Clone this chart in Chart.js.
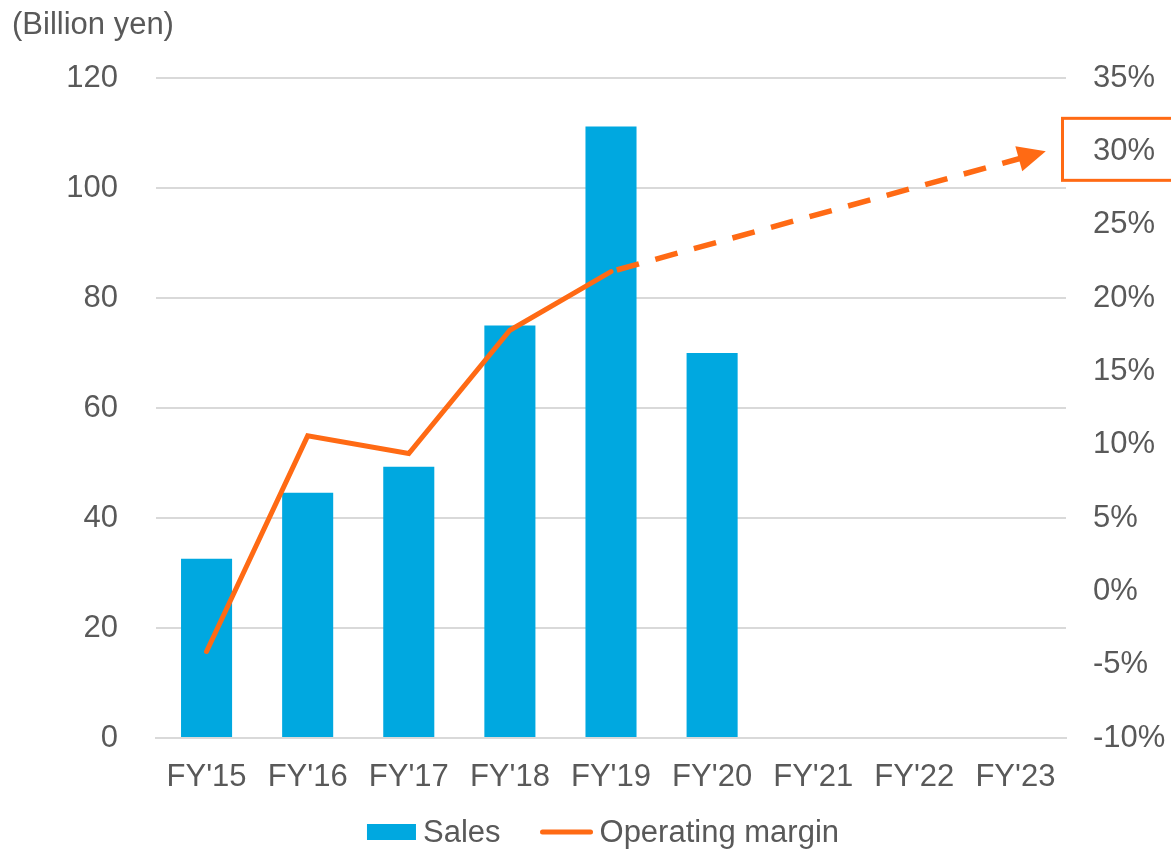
<!DOCTYPE html>
<html>
<head>
<meta charset="utf-8">
<script src="https://cdn.jsdelivr.net/npm/chart.js@4/dist/chart.umd.min.js"></script>
<style>
  html, body { margin: 0; padding: 0; background: #ffffff; }
  #wrap { width: 1171px; height: 849px; }
</style>
</head>
<body>
<div id="wrap"><canvas id="c" width="1171" height="849"></canvas></div>
<script>
// Fiscal years on the category axis
const fiscalYears = ["FY'15", "FY'16", "FY'17", "FY'18", "FY'19", "FY'20", "FY'21", "FY'22", "FY'23"];
// Sales, billion yen
const salesBillionYen = [32.6, 44.6, 49.3, 75.0, 111.2, 70.0, null, null, null];
// Operating margin, %
const operatingMarginPct = [-4.1, 10.6, 9.4, 17.8, 21.8, null, null, null, null];
// Margin outlook (dashed arrow): year index and margin %
const outlookYearIndex = [4, 8.3];
const outlookMarginPct = [21.8, 30];
// Axis ranges
const salesAxis = { min: 0, max: 120, step: 20 };
const marginAxis = { min: -10, max: 35, step: 5 };

const BLUE = '#00A8E0';
const ORANGE = '#FF6A14';
const TEXT = '#595959';
const GRID = '#d9d9d9';
const FONT = 'Liberation Sans, Arial, sans-serif';
const FS = 31;

Chart.defaults.font.family = FONT;

// Dashed outlook line: clip its tail and finish it with an arrowhead
const outlookArrow = {
  id: 'outlookArrow',
  beforeDatasetDraw(chart, args) {
    if (args.index !== 2) return;
    const pts = args.meta.data;
    const tip = pts[pts.length - 1];
    const ctx = chart.ctx;
    ctx.save();
    ctx.beginPath();
    ctx.rect(0, 0, tip.x - 7, chart.height);
    ctx.clip();
  },
  afterDatasetDraw(chart, args) {
    if (args.index !== 2) return;
    const ctx = chart.ctx;
    ctx.restore();
    const pts = args.meta.data;
    const tip = pts[pts.length - 1];
    const prev = pts[pts.length - 2];
    const dx = tip.x - prev.x, dy = tip.y - prev.y;
    const len = Math.hypot(dx, dy);
    const ux = dx / len, uy = dy / len;
    const nx = -uy, ny = ux;
    const L = 28, W = 13;
    const bx = tip.x - ux * L, by = tip.y - uy * L;
    ctx.save();
    ctx.fillStyle = ORANGE;
    ctx.beginPath();
    ctx.moveTo(tip.x, tip.y);
    ctx.lineTo(bx + nx * W, by + ny * W);
    ctx.lineTo(bx - nx * W, by - ny * W);
    ctx.closePath();
    ctx.fill();
    ctx.restore();
  }
};

// Unit caption, target box on the margin axis, and the legend row
const decorations = {
  id: 'decorations',
  afterDraw(chart) {
    const ctx = chart.ctx;
    const area = chart.chartArea;
    ctx.save();

    // unit caption
    ctx.font = `${FS}px ${FONT}`;
    ctx.fillStyle = TEXT;
    ctx.textBaseline = 'middle';
    ctx.textAlign = 'left';
    ctx.fillText('(Billion yen)', 12, 25);

    // box around the target margin tick
    const target = outlookMarginPct[outlookMarginPct.length - 1];
    const ty = chart.scales.y2.getPixelForValue(target);
    ctx.strokeStyle = ORANGE;
    ctx.lineWidth = 3;
    ctx.strokeRect(area.right - 3.5, ty - 33, 200, 62);

    // legend
    ctx.font = `${FS}px ${FONT}`;
    const ds = chart.data.datasets;
    const items = [
      { kind: 'box', color: ds[0].backgroundColor, text: ds[0].label, sym: 49 },
      { kind: 'line', color: ds[1].borderColor, text: ds[1].label, sym: 52 }
    ];
    const symGap = 7, itemGap = 40;
    let total = 0;
    items.forEach((it, i) => {
      it.tw = ctx.measureText(it.text).width;
      it.w = it.sym + symGap + it.tw;
      total += it.w + (i ? itemGap : 0);
    });
    const cy = 832;
    let x = (area.left + area.right) / 2 - 8 - total / 2;
    items.forEach(it => {
      if (it.kind === 'box') {
        ctx.fillStyle = it.color;
        ctx.fillRect(x, cy - 8, it.sym, 16);
      } else {
        ctx.strokeStyle = it.color;
        ctx.lineWidth = 5;
        ctx.lineCap = 'round';
        ctx.beginPath();
        ctx.moveTo(x + 2, cy);
        ctx.lineTo(x + it.sym - 2, cy);
        ctx.stroke();
      }
      ctx.fillStyle = TEXT;
      ctx.textAlign = 'left';
      ctx.textBaseline = 'middle';
      ctx.fillText(it.text, x + it.sym + symGap, cy + 1);
      x += it.w + itemGap;
    });

    ctx.restore();
  }
};

new Chart(document.getElementById('c'), {
  data: {
    labels: fiscalYears,
    datasets: [
      {
        type: 'bar',
        label: 'Sales',
        data: salesBillionYen,
        backgroundColor: BLUE,
        grouped: false,
        categoryPercentage: 1,
        barPercentage: 0.505,
        yAxisID: 'y',
        xAxisID: 'x',
        order: 2
      },
      {
        type: 'line',
        label: 'Operating margin',
        data: operatingMarginPct,
        borderColor: ORANGE,
        borderWidth: 5,
        borderCapStyle: 'round',
        pointRadius: 0,
        tension: 0,
        spanGaps: false,
        yAxisID: 'y2',
        xAxisID: 'x',
        order: 1
      },
      {
        type: 'line',
        label: 'Operating margin outlook',
        data: outlookYearIndex.map((v, i) => ({ x: v, y: outlookMarginPct[i] })),
        borderColor: ORANGE,
        borderWidth: 5.5,
        borderDash: [23, 17],
        borderDashOffset: 34,
        borderCapStyle: 'butt',
        pointRadius: 0,
        tension: 0,
        yAxisID: 'y2',
        xAxisID: 'x2',
        order: 0,
        clip: false
      }
    ]
  },
  options: {
    responsive: false,
    animation: false,
    devicePixelRatio: 1,
    layout: { padding: { top: 78, left: 0, right: 0, bottom: 0 } },
    plugins: {
      legend: { display: false },
      tooltip: { enabled: false },
      title: { display: false }
    },
    scales: {
      x: {
        type: 'category',
        offset: true,
        grid: { display: false, drawTicks: false },
        border: { display: true, color: GRID, width: 2 },
        ticks: { color: TEXT, font: { size: FS }, padding: 21, maxRotation: 0, autoSkip: false },
        afterFit(s) { s.height = 111; }
      },
      x2: {
        type: 'linear',
        display: false,
        min: -0.5,
        max: 8.5
      },
      y: {
        position: 'left',
        min: salesAxis.min,
        max: salesAxis.max,
        ticks: { stepSize: salesAxis.step, color: TEXT, font: { size: FS }, padding: 38 },
        grid: { color: GRID, lineWidth: 2, drawTicks: false },
        border: { display: false },
        afterFit(s) { s.width = 156; }
      },
      y2: {
        position: 'right',
        min: marginAxis.min,
        max: marginAxis.max,
        ticks: { stepSize: marginAxis.step, color: TEXT, font: { size: FS }, padding: 27, callback: v => v + '%' },
        grid: { display: false, drawTicks: false },
        border: { display: false },
        afterFit(s) { s.width = 105; }
      }
    }
  },
  plugins: [outlookArrow, decorations]
});
</script>
</body>
</html>
